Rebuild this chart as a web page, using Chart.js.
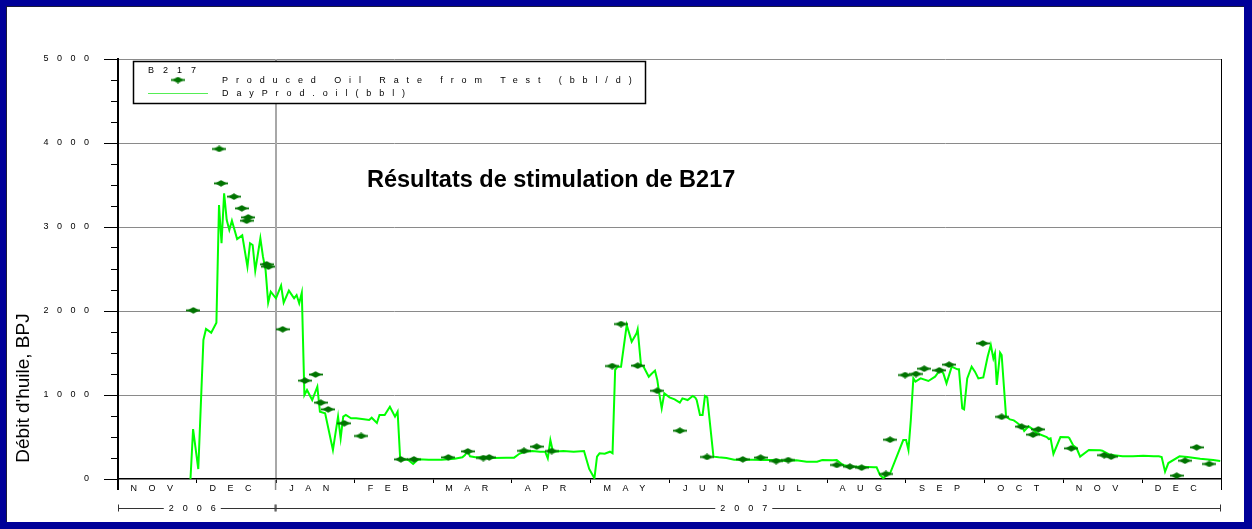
<!DOCTYPE html>
<html>
<head>
<meta charset="utf-8">
<script src="https://cdn.jsdelivr.net/npm/chart.js@4.4.1/dist/chart.umd.min.js"></script>
<style>
  html, body { margin: 0; padding: 0; background: #000099; overflow: hidden; }
  #wrap { position: relative; width: 1252px; height: 529px; }
  #panel { position: absolute; left: 6px; top: 6px; width: 1238px; height: 516px; background: #fff;
           border-left: 1px solid #1a1a3a; border-top: 1px solid #1a1a3a; box-sizing: border-box; }
  canvas { position: absolute; left: 0; top: 0; }
</style>
</head>
<body>
<div id="wrap"><div id="panel"></div><canvas id="c" width="1252" height="529"></canvas></div>
<script>
// ---------- data (x = position in months since 1 Nov 2006) ----------
const wellName = 'B217';
const chartTitle = 'Résultats de stimulation de B217';
const yAxisTitle = "Débit d'huile, BPJ";
const testSeriesName = 'Produced Oil Rate from Test (bbl/d)';
const daySeriesName = 'DayProd.oil(bbl)';

const monthLabels = ['NOV','DEC','JAN','FEB','MAR','APR','MAY','JUN','JUL','AUG','SEP','OCT','NOV','DEC'];
const monthStarts = [0,1,2,3,4,5,6,7,8,9,10,11,12,13,14];
const yearLabels = ['2006','2007'];
const yearStarts = [0, 2];
const yearEnds = [2, 14];
const yMajorTicks = [0,1000,2000,3000,4000,5000];
const yAllTicks = [0,250,500,750,1000,1250,1500,1750,2000,2250,2500,2750,3000,3250,3500,3750,4000,4250,4500,4750,5000];

// Daily production (bbl)
const dayProdX = [0.920,0.953,1.019,1.084,1.117,1.183,1.249,1.282,1.314,1.347,1.380,1.413,1.446,1.512,1.577,1.643,1.676,1.709,1.742,1.807,1.840,1.873,1.906,1.939,2.005,2.070,2.103,2.169,2.235,2.267,2.300,2.333,2.366,2.399,2.465,2.530,2.563,2.629,2.728,2.793,2.826,2.859,2.892,2.958,3.023,3.122,3.188,3.220,3.286,3.319,3.385,3.451,3.516,3.549,3.582,3.681,3.746,3.812,3.943,4.108,4.272,4.371,4.404,4.436,4.469,4.535,4.601,4.765,4.929,5.028,5.094,5.159,5.258,5.357,5.422,5.455,5.488,5.521,5.652,5.784,5.915,5.948,5.981,6.047,6.080,6.112,6.178,6.244,6.277,6.310,6.342,6.385,6.457,6.520,6.582,6.596,6.638,6.671,6.737,6.770,6.816,6.845,6.868,6.901,6.934,7.000,7.065,7.131,7.164,7.230,7.295,7.328,7.345,7.387,7.420,7.450,7.479,7.558,7.624,7.723,7.821,7.953,8.051,8.216,8.380,8.478,8.610,8.741,8.873,8.939,9.070,9.123,9.201,9.300,9.432,9.596,9.629,9.671,9.714,9.777,9.800,9.967,10.003,10.033,10.063,10.095,10.122,10.187,10.286,10.371,10.434,10.476,10.516,10.582,10.654,10.674,10.716,10.739,10.779,10.835,10.877,10.920,10.983,11.038,11.078,11.111,11.131,11.154,11.196,11.216,11.272,11.321,11.370,11.403,11.436,11.469,11.502,11.558,11.600,11.666,11.788,11.814,11.837,11.873,11.962,12.060,12.074,12.126,12.166,12.212,12.323,12.465,12.494,12.586,12.751,12.882,13.014,13.145,13.211,13.247,13.290,13.332,13.474,13.572,13.736,13.901,13.990];
const dayProdOil = [0,595,119,1655,1786,1742,1861,3262,2806,3401,3083,2964,3075,2857,2901,2528,2806,2786,2480,2865,2647,2488,2099,2230,2151,2302,2099,2242,2151,2190,2091,2218,1000,1060,940,1099,801,782,345,742,484,742,762,722,722,710,702,730,667,762,762,861,742,802,234,230,179,234,230,230,240,258,286,333,270,258,258,250,254,254,300,325,333,325,325,246,464,325,333,325,333,226,120,8,266,306,300,325,306,1298,1337,1337,1833,1635,1734,1782,1357,1337,1218,1250,1290,1179,1028,841,1020,972,948,909,960,940,988,968,940,762,762,988,972,266,258,250,230,230,230,226,226,214,222,206,206,226,222,226,167,150,145,139,139,48,8,67,67,464,464,345,702,1198,1159,1198,1167,1218,1298,1258,1139,1337,1306,1306,841,829,1198,1337,1278,1198,1210,1456,1595,1436,1496,1119,1504,1476,742,710,698,675,651,635,571,627,600,544,500,476,484,298,500,496,488,397,369,266,345,341,337,290,270,270,278,270,270,262,87,190,270,262,240,226,214,179];

// Well tests (bbl/d)
const testX = [0.956,1.285,1.308,1.472,1.571,1.653,1.633,1.886,1.909,2.090,2.373,2.507,2.573,2.668,2.872,3.086,3.590,3.756,4.193,4.440,4.637,4.712,5.153,5.314,5.504,6.273,6.385,6.596,6.845,7.131,7.476,7.930,8.156,8.354,8.508,9.123,9.290,9.438,9.747,9.800,9.990,10.128,10.233,10.424,10.549,10.976,11.216,11.469,11.614,11.682,12.100,12.517,12.606,13.437,13.543,13.690,13.851];
const testRate = [2008,3929,3520,3361,3222,3115,3075,2556,2528,1782,1171,1244,909,829,663,512,234,234,258,329,250,258,335,385,333,1345,1845,1349,1050,575,262,234,254,214,226,167,147,135,60,468,1238,1250,1313,1294,1361,1615,740,623,528,591,365,284,266,40,218,377,179];

// ---------- styling helpers ----------
const FONT = "Arial, 'Liberation Sans', sans-serif";
function diamondMarker() {
  const c = document.createElement('canvas');
  c.width = 14; c.height = 7;
  const g = c.getContext('2d');
  g.fillStyle = '#007400';
  g.beginPath();
  g.moveTo(1, 3.5); g.lineTo(7, 0.2); g.lineTo(13, 3.5); g.lineTo(7, 6.8); g.closePath();
  g.fill();
  g.fillRect(0, 2.6, 14, 1.8);
  return c;
}
const marker = diamondMarker();

const extras = {
  id: 'extras',
  beforeDraw(chart) { chart.ctx.letterSpacing = '8.5px'; },
  beforeDatasetsDraw(chart) { chart.ctx.letterSpacing = '0px'; },
  afterDatasetsDraw(chart) { chart.ctx.letterSpacing = '11.5px'; },
  afterDraw(chart) {
    const ctx = chart.ctx, a = chart.chartArea, xs = chart.scales.x, ys = chart.scales.y;
    ctx.save();
    ctx.letterSpacing = '0px';
    const seg = (x0, y0, x1, y1, col, w) => {
      ctx.beginPath(); ctx.strokeStyle = col; ctx.lineWidth = w;
      ctx.moveTo(x0, y0); ctx.lineTo(x1, y1); ctx.stroke();
    };
    // right frame line
    seg(a.right + 0.5, a.top, a.right + 0.5, a.bottom + 11, '#000', 1);
    // long ticks at year boundaries
    seg(xs.getPixelForValue(0), a.bottom, xs.getPixelForValue(0), a.bottom + 11, '#000', 2);
    seg(xs.getPixelForValue(2), a.bottom, xs.getPixelForValue(2), a.bottom + 11, '#888', 1.5);
    // longer major y ticks
    yMajorTicks.forEach(v => {
      const y = Math.round(ys.getPixelForValue(v)) + 0.5;
      seg(a.left - 14, y, a.left - 7, y, '#000', 1);
    });
    // year row
    const yy = a.bottom + 29.5;
    ctx.font = '9px ' + FONT;
    ctx.letterSpacing = '9px';
    ctx.fillStyle = '#000';
    ctx.textAlign = 'center';
    ctx.textBaseline = 'middle';
    yearLabels.forEach((lab, i) => {
      const x0 = xs.getPixelForValue(yearStarts[i]);
      const x1 = xs.getPixelForValue(yearEnds[i]);
      const cx = (x0 + x1) / 2;
      const w = ctx.measureText(lab).width;
      seg(x0, yy, cx - w / 2 - 5, yy, '#333', 1);
      seg(cx + w / 2 - 9 + 5, yy, x1, yy, '#333', 1);
      seg(x0 + 0.5, yy - 4, x0 + 0.5, yy + 3, '#333', 1);
      seg(x1 - 0.5, yy - 4, x1 - 0.5, yy + 3, '#333', 1);
      ctx.fillText(lab, cx, yy + 0.5);
    });
    // legend box
    ctx.letterSpacing = '0px';
    ctx.fillStyle = '#fff';
    ctx.fillRect(133, 61, 512, 42);
    ctx.strokeStyle = '#000'; ctx.lineWidth = 1.5;
    ctx.strokeRect(133.5, 61.5, 512, 42);
    ctx.fillStyle = '#000';
    ctx.textAlign = 'left';
    ctx.textBaseline = 'middle';
    ctx.font = '9px ' + FONT;
    ctx.letterSpacing = '9px';
    ctx.fillText(wellName, 148, 70.5);
    ctx.letterSpacing = '7.9px';
    ctx.fillText(testSeriesName, 222, 80.5);
    ctx.fillText(daySeriesName, 222, 93.5);
    ctx.letterSpacing = '0px';
    ctx.drawImage(marker, 178 - 7, 80 - 3.5);
    seg(148, 93.5, 208, 93.5, '#55ee55', 1);
    // title
    ctx.font = 'bold 23.5px ' + FONT;
    ctx.textBaseline = 'alphabetic';
    ctx.fillText(chartTitle, 367, 187);
    // y axis title
    ctx.save();
    ctx.translate(24, 388);
    ctx.rotate(-Math.PI / 2);
    ctx.font = '19px ' + FONT;
    ctx.textAlign = 'center';
    ctx.textBaseline = 'middle';
    ctx.fillText(yAxisTitle, 0, 0);
    ctx.restore();
    ctx.restore();
  }
};

new Chart(document.getElementById('c'), {
  type: 'scatter',
  data: {
    datasets: [
      {
        label: testSeriesName,
        data: testX.map((x, i) => ({ x, y: testRate[i] })),
        pointStyle: marker,
        pointRadius: 6,
        showLine: false,
        order: 0
      },
      {
        label: daySeriesName,
        data: dayProdX.map((x, i) => ({ x, y: dayProdOil[i] })),
        showLine: true,
        borderColor: '#00ff00',
        borderWidth: 2,
        pointRadius: 0,
        tension: 0,
        fill: false,
        order: 1
      }
    ]
  },
  options: {
    responsive: false,
    devicePixelRatio: 1,
    animation: false,
    events: [],
    layout: { padding: { top: 59, right: 31, left: 0, bottom: 0 } },
    plugins: { legend: { display: false }, tooltip: { enabled: false }, title: { display: false } },
    scales: {
      y: {
        type: 'linear', position: 'left', min: 0, max: 5000,
        afterBuildTicks: s => { s.ticks = yAllTicks.map(v => ({ value: v })); },
        afterFit: s => { s.width = 118; },
        ticks: {
          autoSkip: false, padding: 13.5, color: '#000',
          font: { family: FONT, size: 9 },
          callback: v => yMajorTicks.includes(v) ? String(v) : ''
        },
        grid: {
          color: c => (c.tick && c.tick.value > 0 && yMajorTicks.includes(c.tick.value)) ? '#8a8a8a' : 'rgba(0,0,0,0)',
          tickColor: '#000', tickLength: 7, lineWidth: 1
        },
        border: { color: '#000', width: 2 }
      },
      x: {
        type: 'linear', position: 'bottom', min: 0, max: 14,
        afterBuildTicks: s => { s.ticks = monthStarts.map(v => ({ value: v })); },
        afterFit: s => { s.height = 4; },
        ticks: { display: false },
        grid: {
          color: c => (c.tick && c.tick.value === 2) ? '#a8a8a8' : 'rgba(0,0,0,0)',
          lineWidth: c => (c.tick && c.tick.value === 2) ? 2 : 1,
          tickColor: '#000', tickLength: 4
        },
        border: { color: '#000', width: 1.5 }
      },
      xm: {
        type: 'linear', position: 'bottom', min: 0, max: 14,
        afterBuildTicks: s => { s.ticks = monthStarts.slice(0, -1).map(v => ({ value: v + 0.5 })); },
        afterFit: s => { s.height = 46; },
        grid: { display: false, drawTicks: false },
        border: { display: false },
        ticks: {
          autoSkip: false, maxRotation: 0, minRotation: 0, padding: 0, z: 1, color: '#000',
          font: { family: FONT, size: 9 },
          callback: (v, i) => monthLabels[i]
        }
      }
    }
  },
  plugins: [extras]
});
</script>
</body>
</html>
